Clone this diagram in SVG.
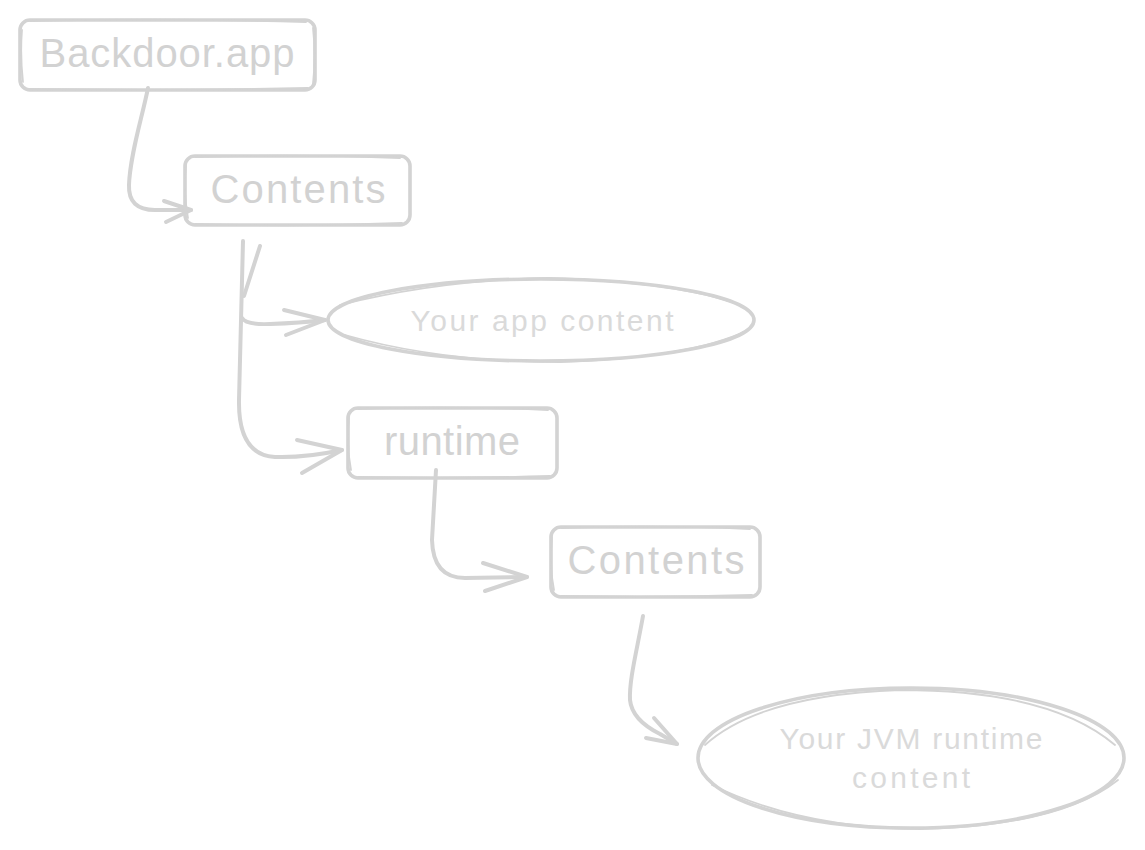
<svg xmlns="http://www.w3.org/2000/svg" width="1145" height="850" viewBox="0 0 1145 850">
<style>
.box{fill:none;stroke:#d3d3d3;stroke-width:3.6;stroke-linecap:round;stroke-linejoin:round}
.box2{fill:none;stroke:#d3d3d3;stroke-width:1.8;stroke-linecap:round}
.con{fill:none;stroke:#d3d3d3;stroke-width:4;stroke-linecap:round;stroke-linejoin:round}
.t{font-family:"Liberation Sans","DejaVu Sans",sans-serif;fill:#d2d2d2;text-anchor:middle}
.big{font-size:40px}
.small{font-size:30px;fill:#dadada}
</style>
<rect width="1145" height="850" fill="#ffffff"/>
<g id="connectors">
  <g id="a1">
    <path class="con" d="M148,88 C142,118 130,155 129,185 Q128,210 155,210 L191,210"/>
    <path class="con" d="M164,201 L191,210 L166,222"/>
  </g>
  <g id="a2">
    <path class="con" d="M243,241 L239,400 Q238,455 275,457 Q305,458 342,450"/>
    <path class="con" d="M297,440 L342,450 L302,473"/>
    <path class="con" d="M260,246 L244,296"/>
    <path class="con" d="M242,318 Q246,325 270,324 Q300,323 325,320"/>
    <path class="con" d="M284,310 L325,320 L286,335"/>
  </g>
  <g id="a3">
    <path class="con" d="M436,470 L432,540 Q433,578 465,578 L527,577"/>
    <path class="con" d="M483,563 L527,577 L485,591"/>
  </g>
  <g id="a4">
    <path class="con" d="M643,616 C637,650 629,680 630,700 Q632,720 660,734 L677,744"/>
    <path class="con" d="M654,718 L677,744 L646,738"/>
  </g>
</g>
<g id="n-backdoor">
  <rect class="box" x="20" y="20" width="295" height="70" rx="10"/>
  <path class="box2" d="M30,21 Q170,18 306,22 M22,30 Q20,55 23,82 M28,89 Q170,91 308,88 M313,28 Q316,55 313,84"/>
  <text class="t big" x="167" y="67" textLength="255">Backdoor.app</text>
</g>
<g id="n-contents1">
  <rect class="box" x="185" y="156" width="225" height="69" rx="10"/>
  <path class="box2" d="M195,157 Q300,154 400,158 M186,166 Q183,190 188,218 M195,224 Q300,227 402,223"/>
  <text class="t big" x="298" y="203" textLength="175">Contents</text>
</g>
<g id="n-appcontent">
  <ellipse class="box" cx="541" cy="320" rx="213" ry="41"/>
  <path class="box2" d="M340,305 Q440,280 548,278 Q680,282 740,305 M345,335 Q440,362 560,362 Q690,358 748,330"/>
  <text class="t small" x="542" y="331" textLength="263">Your app content</text>
</g>
<g id="n-runtime">
  <rect class="box" x="348" y="408" width="209" height="70" rx="10"/>
  <path class="box2" d="M358,409 Q450,406 548,410 M349,418 Q346,445 351,470 M358,477 Q450,479 550,476"/>
  <text class="t big" x="452" y="455" textLength="136">runtime</text>
</g>
<g id="n-contents2">
  <rect class="box" x="551" y="527" width="209" height="70" rx="10"/>
  <path class="box2" d="M561,528 Q660,525 750,529 M552,537 Q549,565 554,590 M561,596 Q660,598 752,595"/>
  <text class="t big" x="656" y="574" textLength="177">Contents</text>
</g>
<g id="n-jvmcontent">
  <ellipse class="box" cx="911" cy="758" rx="213" ry="70"/>
  <path class="box2" d="M705,745 Q760,695 900,690 Q1050,690 1115,745 M712,785 Q800,828 920,829 Q1060,826 1118,780"/>
  <text class="t small" x="911" y="749" textLength="263">Your JVM runtime</text>
  <text class="t small" x="911" y="788" textLength="118">content</text>
</g>
</svg>
